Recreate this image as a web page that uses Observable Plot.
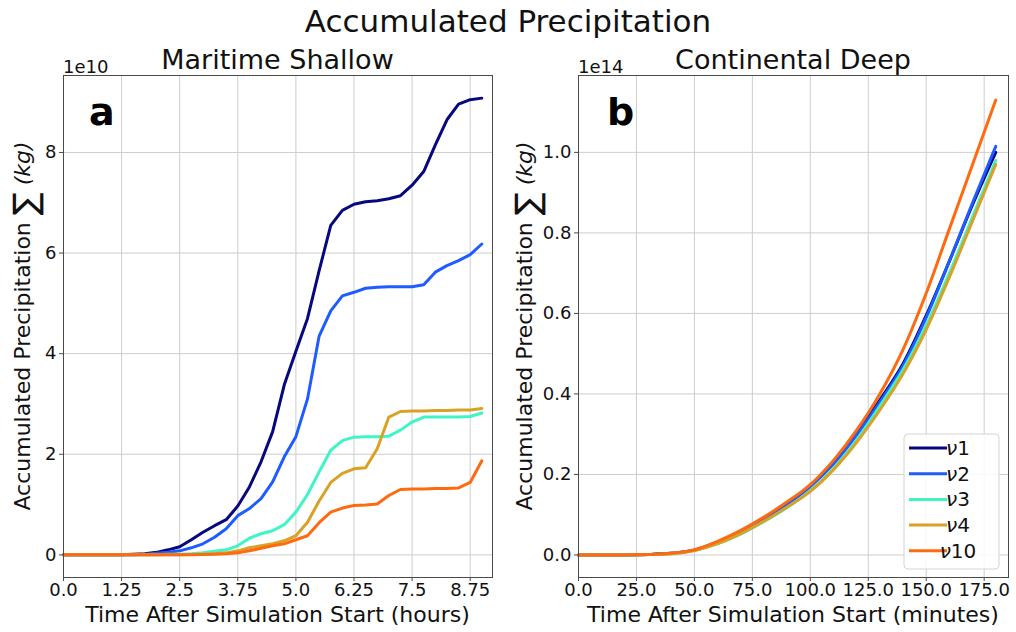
<!DOCTYPE html>
<html>
<head>
<meta charset="utf-8">
<script src="https://cdn.jsdelivr.net/npm/d3@7"></script>
<script src="https://cdn.jsdelivr.net/npm/@observablehq/plot@0.6"></script>
<style>
  body { margin: 0; background: #fff; font-family: "DejaVu Sans", sans-serif; }
  #page { position: relative; width: 1016px; height: 632px; overflow: hidden; background: #fff; }
  #title { position: absolute; left: 0; top: 3px; width: 1016px; text-align: center;
           font-size: 31px; line-height: 36px; color: #111; }
  #panels { position: absolute; left: 0; top: 40px; display: flex; }
</style>
</head>
<body>
<div id="page">
  <div id="title">Accumulated Precipitation</div>
  <div id="panels"></div>
</div>
<script>
// Ensemble members and their line colours
const seriesNames = ["ν1", "ν2", "ν3", "ν4", "ν10"];
const seriesColors = ["#07077e", "#1f5cff", "#3ff5c6", "#d9a125", "#ff6a10"];

// Panel a: Maritime Shallow, hours after start, values in 1e10 kg
const hoursA = [0, 0.25, 0.5, 0.75, 1, 1.25, 1.5, 1.75, 2, 2.25, 2.5, 2.75, 3, 3.25, 3.5, 3.75,
  4, 4.25, 4.5, 4.75, 5, 5.25, 5.5, 5.75, 6, 6.25, 6.5, 6.75, 7, 7.25, 7.5, 7.75, 8, 8.25, 8.5, 8.75, 9];
const nu1A = [0, 0, 0, 0, 0, 0, 0.01, 0.02, 0.05, 0.1, 0.16, 0.3, 0.45, 0.58, 0.7, 0.97,
  1.35, 1.85, 2.45, 3.38, 4.05, 4.7, 5.65, 6.55, 6.85, 6.97, 7.02, 7.04, 7.08, 7.14, 7.35, 7.62, 8.15, 8.65, 8.96, 9.05, 9.08];
const nu2A = [0, 0, 0, 0, 0, 0, 0, 0.01, 0.03, 0.05, 0.08, 0.14, 0.22, 0.35, 0.52, 0.78,
  0.92, 1.12, 1.45, 1.95, 2.35, 3.1, 4.35, 4.85, 5.15, 5.22, 5.3, 5.32, 5.33, 5.33, 5.33, 5.37, 5.62, 5.75, 5.85, 5.97, 6.18];
const nu3A = [0, 0, 0, 0, 0, 0, 0, 0, 0, 0.01, 0.01, 0.02, 0.04, 0.07, 0.1, 0.18,
  0.33, 0.42, 0.48, 0.6, 0.85, 1.2, 1.65, 2.08, 2.27, 2.34, 2.35, 2.35, 2.36, 2.48, 2.64, 2.74, 2.74, 2.74, 2.74, 2.75, 2.82];
const nu4A = [0, 0, 0, 0, 0, 0, 0, 0, 0, 0, 0, 0.005, 0.01, 0.02, 0.04, 0.08,
  0.14, 0.18, 0.22, 0.28, 0.38, 0.65, 1.07, 1.44, 1.62, 1.71, 1.73, 2.11, 2.74, 2.85, 2.86, 2.86, 2.87, 2.87, 2.88, 2.88, 2.91];
const nu10A = [0, 0, 0, 0, 0, 0, 0, 0, 0, 0, 0, 0, 0.005, 0.01, 0.02, 0.04,
  0.08, 0.13, 0.18, 0.22, 0.3, 0.38, 0.64, 0.85, 0.93, 0.98, 0.99, 1.01, 1.18, 1.3, 1.31, 1.31, 1.32, 1.32, 1.33, 1.44, 1.87];

// Panel b: Continental Deep, minutes after start, values in 1e14 kg
const minutesB = [0, 10, 20, 30, 40, 50, 60, 70, 80, 90, 100, 110, 120, 130, 140, 150, 160, 170, 180];
const nu1B = [0, 0, 0, 0.001, 0.004, 0.012, 0.032, 0.058, 0.09, 0.128, 0.172, 0.23, 0.305, 0.385, 0.475, 0.595, 0.73, 0.87, 1.0];
const nu2B = [0, 0, 0, 0.001, 0.004, 0.012, 0.031, 0.057, 0.089, 0.126, 0.17, 0.226, 0.298, 0.38, 0.47, 0.59, 0.73, 0.875, 1.015];
const nu3B = [0, 0, 0, 0.001, 0.003, 0.011, 0.028, 0.052, 0.083, 0.118, 0.16, 0.215, 0.285, 0.37, 0.46, 0.57, 0.7, 0.84, 0.98];
const nu4B = [0, 0, 0, 0.001, 0.003, 0.011, 0.028, 0.053, 0.084, 0.119, 0.158, 0.212, 0.28, 0.36, 0.45, 0.56, 0.69, 0.83, 0.97];
const nu10B = [0, 0, 0, 0.001, 0.004, 0.013, 0.034, 0.061, 0.094, 0.132, 0.175, 0.235, 0.31, 0.4, 0.51, 0.65, 0.81, 0.97, 1.13];

// Tick positions and labels
const xTicksA = [0, 1.25, 2.5, 3.75, 5, 6.25, 7.5, 8.75];
const xTickLabelsA = ["0.0", "1.25", "2.5", "3.75", "5.0", "6.25", "7.5", "8.75"];
const yTicksA = [0, 2, 4, 6, 8];
const yTickLabelsA = ["0", "2", "4", "6", "8"];
const xTicksB = [0, 25, 50, 75, 100, 125, 150, 175];
const xTickLabelsB = ["0.0", "25.0", "50.0", "75.0", "100.0", "125.0", "150.0", "175.0"];
const yTicksB = [0, 0.2, 0.4, 0.6, 0.8, 1.0];
const yTickLabelsB = ["0.0", "0.2", "0.4", "0.6", "0.8", "1.0"];

// Long-format rows for Plot
function tidy(times, columns) {
  const rows = [];
  columns.forEach((vals, k) => {
    vals.forEach((v, i) => rows.push({ t: times[i], v, series: seriesNames[k] }));
  });
  return rows;
}
const rowsA = tidy(hoursA, [nu1A, nu2A, nu3A, nu4A, nu10A]);
const rowsB = tidy(minutesB, [nu1B, nu2B, nu3B, nu4B, nu10B]);

const W = 508, H = 592;
const textColor = "#111";
const axisColor = "#4a4a4a";

function panel(cfg) {
  const plot = Plot.plot({
    width: W, height: H,
    marginTop: 35, marginBottom: 55, marginLeft: cfg.marginLeft, marginRight: cfg.marginRight,
    style: { fontFamily: "DejaVu Sans, sans-serif", fontSize: "18px", color: textColor, background: "#fff", overflow: "visible" },
    x: { domain: cfg.xDomain },
    y: { domain: cfg.yDomain },
    color: { domain: seriesNames, range: seriesColors },
    marks: [
      Plot.gridX(cfg.xTicks, { stroke: "#cdcdcd", strokeOpacity: 1, strokeWidth: 1 }),
      Plot.gridY(cfg.yTicks, { stroke: "#cdcdcd", strokeOpacity: 1, strokeWidth: 1 }),
      Plot.line(cfg.rows, { x: "t", y: "v", z: "series", stroke: "series", strokeWidth: 3, curve: cfg.curve }),
      Plot.frame({ stroke: axisColor, strokeWidth: 1 }),
      Plot.axisX(cfg.xTicks, { tickFormat: d => cfg.xLabels[cfg.xTicks.indexOf(d)], tickSize: 4, tickPadding: 2, stroke: axisColor, label: null }),
      Plot.axisY(cfg.yTicks, { tickFormat: d => cfg.yLabels[cfg.yTicks.indexOf(d)], tickSize: 4, tickPadding: 3, stroke: axisColor, label: null })
    ]
  });

  const svg = d3.select(plot);
  const left = cfg.marginLeft, right = W - cfg.marginRight, top = 35, bottom = H - 55;
  const cx = (left + right) / 2;

  // subplot title
  svg.append("text").attr("x", cx).attr("y", top - 6).attr("text-anchor", "middle")
    .attr("font-size", 27).attr("fill", textColor).text(cfg.title);
  // offset (scale exponent) above the y axis
  svg.append("text").attr("x", left).attr("y", top - 2).attr("text-anchor", "start")
    .attr("font-size", 18).attr("fill", textColor).text(cfg.exponent);
  // panel letter
  svg.append("text").attr("x", left + cfg.letterDx).attr("y", top + 50).attr("text-anchor", "start")
    .attr("font-size", 38).attr("font-weight", "bold").attr("fill", "#000").text(cfg.letter);
  // x axis title
  svg.append("text").attr("x", cx).attr("y", bottom + 45).attr("text-anchor", "middle")
    .attr("font-size", 22).attr("fill", textColor).text(cfg.xTitle);
  // y axis title with summation sign and italic unit
  const yt = svg.append("text")
    .attr("transform", `translate(${cfg.yTitleX},${(top + bottom) / 2}) rotate(-90)`)
    .attr("text-anchor", "middle").attr("font-size", 22).attr("fill", textColor);
  yt.append("tspan").text("Accumulated Precipitation ");
  yt.append("tspan").attr("font-size", 34).attr("dy", 7).text("∑");
  yt.append("tspan").attr("dy", -7).text(" ");
  yt.append("tspan").attr("font-style", "italic").text("(kg)");

  if (cfg.legend) {
    const color = plot.scale("color");
    const lg = svg.append("g");
    const bx = right - 104, by = bottom - 143, bw = 95, bh = 135;
    lg.append("rect").attr("x", bx).attr("y", by).attr("width", bw).attr("height", bh).attr("rx", 4)
      .attr("fill", "#fff").attr("fill-opacity", 0.85).attr("stroke", "#d4d4d4");
    seriesNames.forEach((name, i) => {
      const ly = by + 14 + i * 25.7;
      lg.append("line").attr("x1", bx + 5).attr("x2", bx + 43).attr("y1", ly).attr("y2", ly)
        .attr("stroke", color.apply(name)).attr("stroke-width", 3);
      const tx = lg.append("text").attr("x", bx + 54).attr("y", ly + 7).attr("font-size", 20).attr("fill", textColor);
      tx.append("tspan").attr("font-style", "italic").text(name.slice(0, 1));
      tx.append("tspan").text(name.slice(1));
    });
  }
  return plot;
}

const host = document.getElementById("panels");
host.append(panel({
  rows: rowsA, xDomain: [0, 9.23], yDomain: [-0.45, 9.53],
  xTicks: xTicksA, xLabels: xTickLabelsA, yTicks: yTicksA, yLabels: yTickLabelsA,
  marginLeft: 63, marginRight: 16, curve: "linear",
  title: "Maritime Shallow", exponent: "1e10", letter: "a", letterDx: 26,
  xTitle: "Time After Simulation Start (hours)", yTitleX: 30, legend: false
}));
host.append(panel({
  rows: rowsB, xDomain: [0, 185.5], yDomain: [-0.056, 1.191],
  xTicks: xTicksB, xLabels: xTickLabelsB, yTicks: yTicksB, yLabels: yTickLabelsB,
  marginLeft: 70, marginRight: 8, curve: "monotone-x",
  title: "Continental Deep", exponent: "1e14", letter: "b", letterDx: 29,
  xTitle: "Time After Simulation Start (minutes)", yTitleX: 24, legend: true
}));
</script>
</body>
</html>
